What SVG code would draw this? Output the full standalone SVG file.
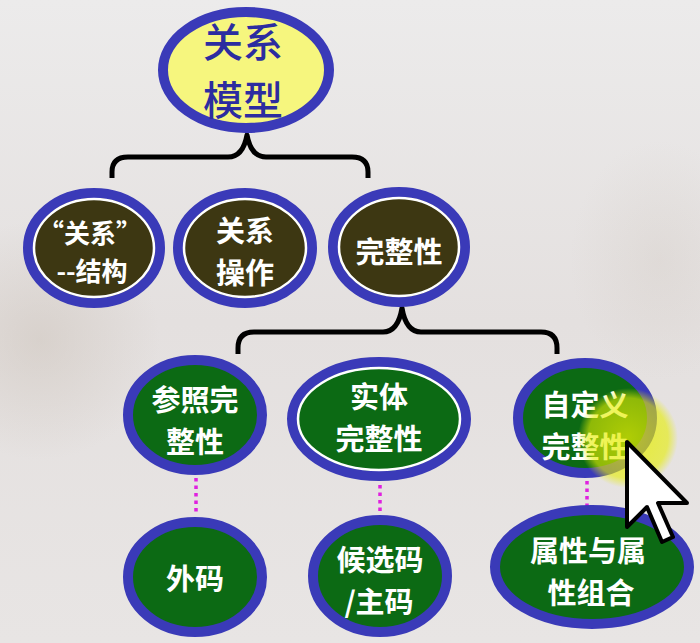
<svg xmlns="http://www.w3.org/2000/svg" width="700" height="643" viewBox="0 0 700 643">
<defs>
<style>
.ring{stroke:#3a3ab8;stroke-width:10}
.inner{fill:none;stroke:#ffffff;stroke-width:2.5}
.olive{fill:#3d3712}
.green{fill:#0c6a14}
.yel{fill:#f6f67e}
.t{font-family:"Noto Sans CJK SC","Noto Sans",sans-serif;font-weight:700;font-size:29px;fill:#ffffff;text-anchor:middle;dominant-baseline:central}
.top{font-family:"Noto Sans CJK SC","Noto Sans",sans-serif;font-weight:500;font-size:40px;fill:#2c2ca0;text-anchor:middle;dominant-baseline:central}
.brace{fill:none;stroke:#000000;stroke-width:5;stroke-linejoin:round}
.dot{stroke:#e020e0;stroke-width:3.5;stroke-dasharray:3.5 4;fill:none}
</style>
<linearGradient id="bg" x1="0" y1="0" x2="0" y2="1">
<stop offset="0" stop-color="#ecebeb"/>
<stop offset="0.5" stop-color="#e4e0df"/>
<stop offset="1" stop-color="#e8e5e4"/>
</linearGradient>
<radialGradient id="glow" cx="0.5" cy="0.5" r="0.5">
<stop offset="0" stop-color="#e6ee00" stop-opacity="0.75"/>
<stop offset="0.8" stop-color="#e6ee00" stop-opacity="0.6"/>
<stop offset="1" stop-color="#e6ee00" stop-opacity="0"/>
</radialGradient>
<radialGradient id="shade" cx="0.5" cy="0.5" r="0.5">
<stop offset="0" stop-color="#c9bfb5" stop-opacity="0.45"/>
<stop offset="1" stop-color="#c9bfb5" stop-opacity="0"/>
</radialGradient>
</defs>
<rect width="700" height="643" fill="url(#bg)"/>
<ellipse cx="40" cy="340" rx="120" ry="120" fill="url(#shade)"/>
<ellipse cx="660" cy="260" rx="90" ry="120" fill="url(#shade)" opacity="0.5"/>

<g id="connectors">
<path class="brace" d="M112,178 V172 Q112,157 128,157 H228 Q243,157 247,135 Q251,157 266,157 H352 Q368,157 368,172 V178"/>
<path class="brace" d="M238,354 V348 Q238,332 254,332 H383 Q398,332 402,308 Q406,332 421,332 H541 Q557,332 557,348 V354"/>
<line class="dot" x1="196" y1="478" x2="196" y2="515"/>
<line class="dot" x1="380" y1="485" x2="380" y2="514"/>
<line class="dot" x1="587" y1="481" x2="587" y2="506"/>
</g>

<g id="n-model">
<ellipse class="ring yel" cx="246" cy="70" rx="83" ry="58"/>
<text class="top" x="243" y="40">关系</text>
<text class="top" x="243" y="98">模型</text>
</g>

<g id="n-structure">
<ellipse class="ring olive" cx="94" cy="248" rx="66" ry="55"/>
<ellipse class="inner" cx="94" cy="248" rx="60" ry="49"/>
<text class="t" x="90" y="231" style="font-size:26px">“关系”</text>
<text class="t" x="92" y="269" style="font-size:26px">--结构</text>
</g>

<g id="n-operation">
<ellipse class="ring olive" cx="245" cy="248" rx="67" ry="55"/>
<ellipse class="inner" cx="245" cy="248" rx="61" ry="49"/>
<text class="t" x="245" y="229">关系</text>
<text class="t" x="245" y="271">操作</text>
</g>

<g id="n-integrity">
<ellipse class="ring olive" cx="399" cy="247" rx="66" ry="55"/>
<ellipse class="inner" cx="399" cy="247" rx="60" ry="49"/>
<text class="t" x="399" y="250">完整性</text>
</g>

<g id="n-referential">
<ellipse class="ring green" cx="195" cy="415" rx="67" ry="55"/>
<text class="t" x="195" y="398">参照完</text>
<text class="t" x="195" y="440">整性</text>
</g>

<g id="n-entity">
<ellipse class="ring green" cx="379" cy="419" rx="87" ry="57"/>
<ellipse class="inner" cx="379" cy="419" rx="81" ry="51"/>
<text class="t" x="379" y="395">实体</text>
<text class="t" x="379" y="437">完整性</text>
</g>

<g id="n-userdefined">
<ellipse class="ring green" cx="585" cy="418" rx="67" ry="55"/>
<text class="t" x="585" y="403">自定义</text>
<text class="t" x="585" y="445">完整性</text>
</g>

<g id="n-foreignkey">
<ellipse class="ring green" cx="195" cy="577" rx="67" ry="55"/>
<text class="t" x="195" y="577">外码</text>
</g>

<g id="n-key">
<ellipse class="ring green" cx="380" cy="576" rx="67" ry="56"/>
<text class="t" x="380" y="558">候选码</text>
<text class="t" x="379" y="600">/主码</text>
</g>

<g id="n-attr">
<ellipse class="ring green" cx="592" cy="567" rx="97" ry="57"/>
<text class="t" x="588" y="549">属性与属</text>
<text class="t" x="591" y="591">性组合</text>
</g>

<g id="pointer">
<circle cx="628" cy="438" r="50" fill="url(#glow)"/>
<polygon points="627,442 627,527 647,507 662,542 673,537 658,503 687,503" fill="#ffffff" stroke="#000000" stroke-width="4" stroke-linejoin="round"/>
</g>
</svg>
